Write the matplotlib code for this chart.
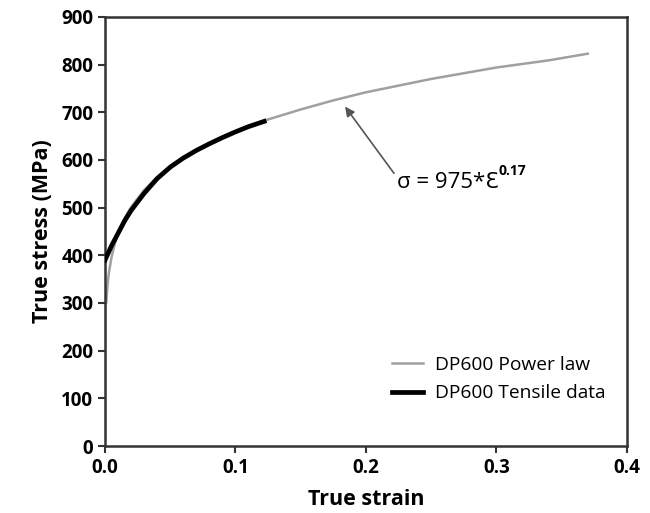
import matplotlib
matplotlib.use("Agg")
import matplotlib.pyplot as plt

plt.rcParams['font.family'] = ['Open Sans', 'DejaVu Sans']

# Power law fit
law_strain = [0.001, 0.002, 0.003, 0.005, 0.0075, 0.01, 0.015, 0.02, 0.03, 0.04, 0.05,
              0.065, 0.08, 0.1, 0.125, 0.15, 0.175, 0.2, 0.25, 0.3, 0.34, 0.37]
law_stress = [301, 339, 363, 396, 424, 446, 478, 501, 537, 564, 586,
              612, 635, 659, 685, 706, 725, 742, 770, 794, 809, 823]

# Measured tensile curve (black)
tens_strain = [0.0, 0.002, 0.005, 0.01, 0.015, 0.02, 0.03, 0.04, 0.05, 0.06,
               0.07, 0.08, 0.09, 0.1, 0.11, 0.122]
tens_stress = [390, 402, 420, 446, 472, 494, 530, 561, 585, 604,
               620, 634, 647, 659, 670, 681]

fig = plt.figure(figsize=(6.5, 5.13), dpi=100)
ax = fig.add_axes([0.1615, 0.1306, 0.803, 0.8363])

ax.plot(law_strain, law_stress, color='#a0a0a0', lw=1.8, label='DP600 Power law', zorder=2)
ax.plot(tens_strain, tens_stress, color='black', lw=3.4, label='DP600 Tensile data', zorder=3)

ax.set_xlim(0, 0.4)
ax.set_ylim(0, 900)
ax.set_xticks([0.0, 0.1, 0.2, 0.3, 0.4])
ax.set_xticklabels(['0.0', '0.1', '0.2', '0.3', '0.4'])
ax.set_yticks(range(0, 901, 100))
ax.tick_params(direction='out', length=5, width=1.5, color='#333333', labelsize=13.5)
for lbl in ax.get_xticklabels() + ax.get_yticklabels():
    lbl.set_fontweight('bold')
for s in ax.spines.values():
    s.set_linewidth(1.8)
    s.set_color('#333333')

ax.set_xlabel('True strain', fontsize=15.5, fontweight='bold', labelpad=8)
ax.set_ylabel('True stress (MPa)', fontsize=15.5, fontweight='bold', labelpad=6)

ax.annotate('', xy=(0.184, 712), xytext=(0.2215, 572),
            arrowprops=dict(arrowstyle='-|>', color='#555555', lw=1.2,
                            mutation_scale=14, shrinkA=0, shrinkB=0))
eq = ax.text(0.2235, 552, 'σ = 975*Ɛ', fontsize=16, va='center', ha='left',
             family=['Open Sans', 'DejaVu Sans'])
ax.annotate('0.17', xy=(1, 1), xycoords=eq, xytext=(0, -4), textcoords='offset points',
            fontsize=10, fontweight='bold', ha='left', va='bottom')

ax.legend(loc='center left', bbox_to_anchor=(0.525, 0.156), frameon=False,
          fontsize=13.8, handlelength=1.6, handletextpad=0.6, labelspacing=0.55,
          borderpad=0.2)

fig.savefig('out.png', dpi=100)
